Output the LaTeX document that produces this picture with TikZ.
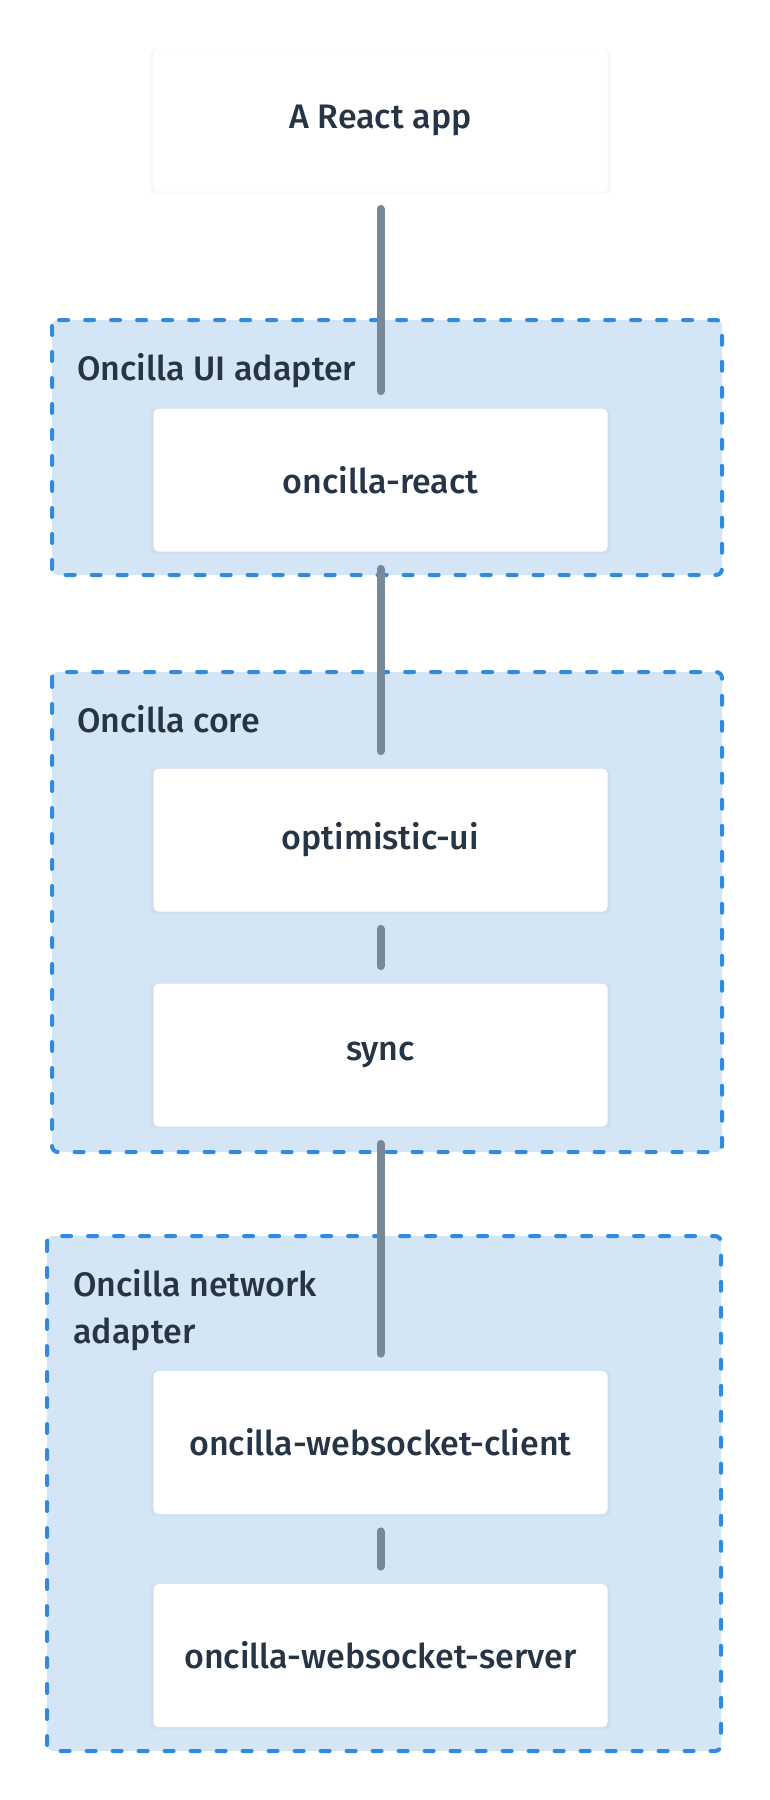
\documentclass[tikz,border=0pt]{standalone}
\usepackage{fontspec}
\setmainfont{Fira Sans}[UprightFont={* Medium}]
\usetikzlibrary{shadows}

\definecolor{inkblue}{HTML}{263545}
\definecolor{groupfill}{HTML}{D4E5F5}
\definecolor{groupline}{HTML}{2F8AE0}
\definecolor{wire}{HTML}{778898}

\begin{document}
\begin{tikzpicture}[x=0.5pt, y=-0.5pt,
    every node/.style={text=inkblue, font=\fontsize{17}{23.5}\selectfont},
    pkg/.style={fill=white, rounded corners=2.5pt, minimum width=227pt,
      minimum height=71.5pt, inner sep=0pt,
      drop shadow={opacity=0.06, shadow xshift=0pt, shadow yshift=-0.5pt, shadow scale=1.015}},
    group/.style={fill=groupfill, draw=groupline, line width=2pt, line cap=round,
      dash pattern=on 4.5pt off 8.5pt, rounded corners=3pt},
    grouplabel/.style={anchor=base west, align=left, inner sep=0pt},
    link/.style={draw=wire, line width=4pt, line cap=round,
      shorten <=8.5pt, shorten >=8.5pt}]
  \useasboundingbox (0,0) rectangle (770,1800);

  % Groups
  \draw[group] (52,320) rectangle (722,575);
  \node[grouplabel] (uilabel) at (77,380) {Oncilla UI adapter};
  \draw[group] (52,672) rectangle (722,1152);
  \node[grouplabel] (corelabel) at (77,732) {Oncilla core};
  \draw[group] (47,1236) rectangle (721,1751);
  \node[grouplabel] (netlabel) at (73,1343) {Oncilla network\\adapter};

  % Packages
  \def\cx{380.5}
  \node[pkg] (react) at (\cx,120) {A React app};
  \node[pkg] (ureact) at (\cx,480) {oncilla-react};
  \node[pkg] (optui) at (\cx,840) {optimistic-ui};
  \node[pkg] (sync) at (\cx,1055) {sync};
  \node[pkg] (wsclient) at (\cx,1442.5) {oncilla-websocket-client};
  \node[pkg] (wsserver) at (\cx,1655.5) {oncilla-websocket-server};

  % Links
  \foreach \a/\b in {react/ureact, ureact/optui, optui/sync, sync/wsclient, wsclient/wsserver}
    \draw[link] (\a.south) -- (\b.north);
\end{tikzpicture}
\end{document}
